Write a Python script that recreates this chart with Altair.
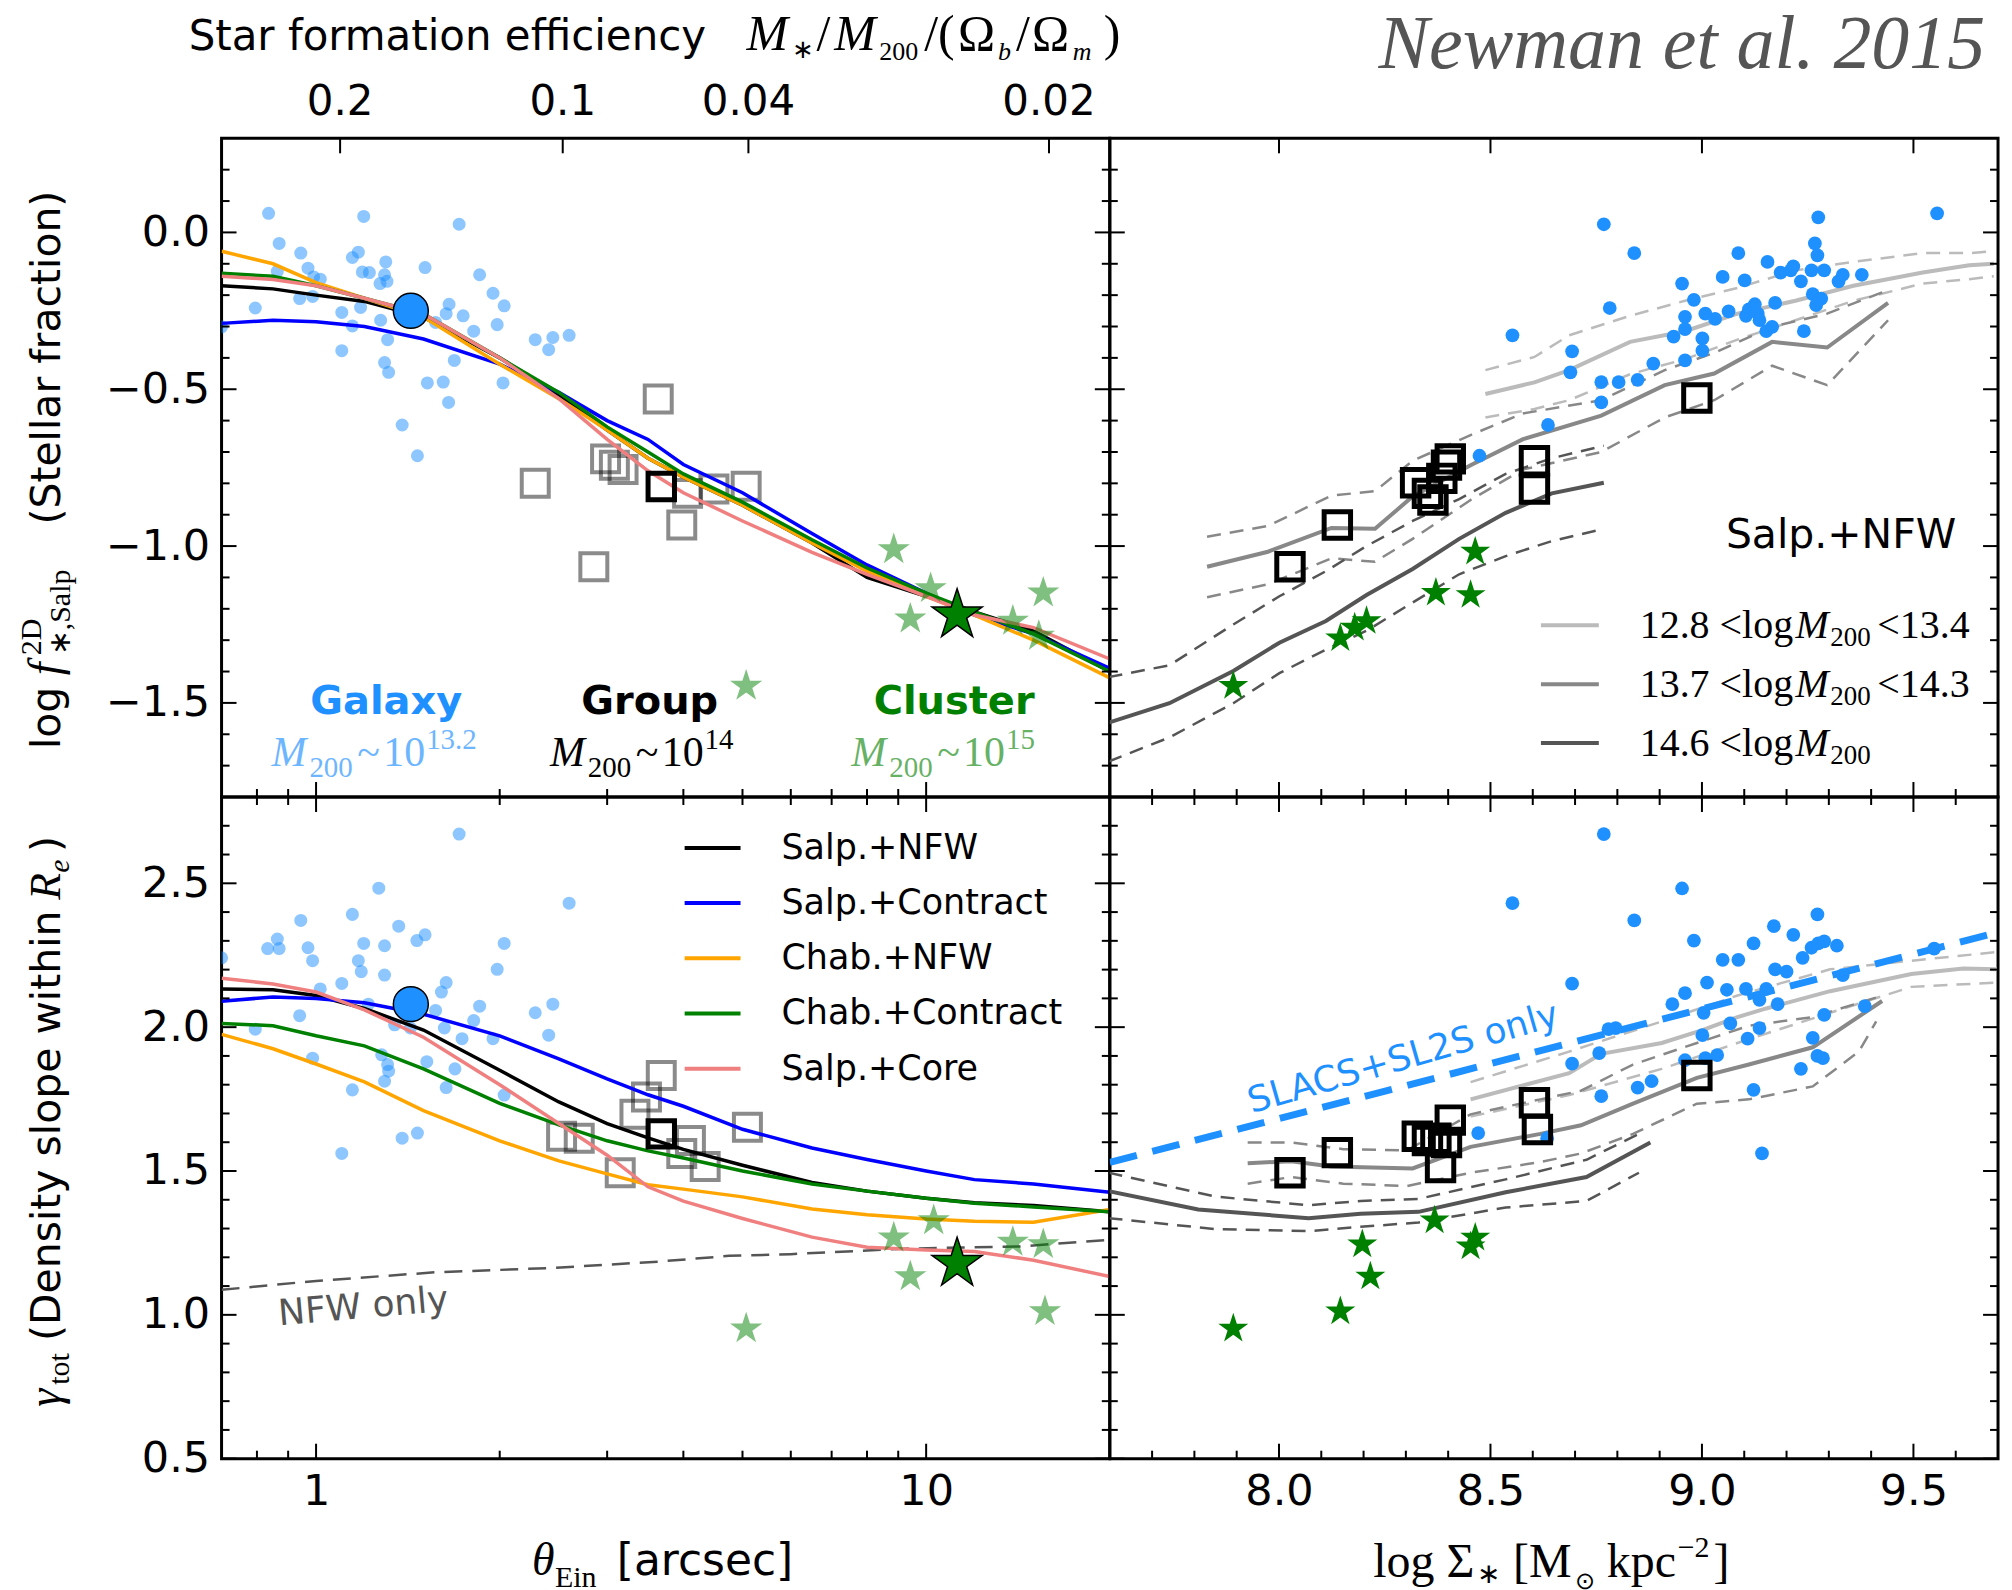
import altair as alt
import pandas as pd

# ---------------------------------------------------------------- data
theta_grid = [0.7, 0.85, 1.0, 1.2, 1.5, 2.0, 2.5, 3.0, 3.5, 4.0, 5.0, 6.5, 8.0, 10, 12, 15, 20]

fstar_salp_nfw = [-0.17, -0.18, -0.20, -0.22, -0.27, -0.40, -0.52, -0.63, -0.72, -0.78, -0.87, -0.99, -1.10, -1.16, -1.21, -1.27, -1.40]
fstar_salp_contract = [-0.29, -0.28, -0.285, -0.30, -0.34, -0.42, -0.51, -0.60, -0.66, -0.74, -0.83, -0.96, -1.06, -1.15, -1.22, -1.28, -1.39]
fstar_chab_nfw = [-0.06, -0.10, -0.16, -0.21, -0.27, -0.42, -0.53, -0.63, -0.72, -0.78, -0.87, -0.99, -1.08, -1.16, -1.22, -1.30, -1.42]
fstar_chab_contract = [-0.13, -0.14, -0.17, -0.21, -0.26, -0.40, -0.51, -0.62, -0.70, -0.77, -0.86, -0.98, -1.07, -1.15, -1.21, -1.28, -1.40]
fstar_salp_core = [-0.14, -0.15, -0.17, -0.21, -0.26, -0.40, -0.53, -0.66, -0.76, -0.83, -0.92, -1.02, -1.09, -1.16, -1.22, -1.26, -1.36]

gamma_salp_nfw = [2.133, 2.13, 2.11, 2.065, 1.99, 1.85, 1.74, 1.665, 1.615, 1.575, 1.52, 1.46, 1.43, 1.405, 1.39, 1.38, 1.358]
gamma_salp_contract = [2.09, 2.105, 2.10, 2.085, 2.045, 1.97, 1.89, 1.82, 1.765, 1.725, 1.645, 1.58, 1.54, 1.50, 1.47, 1.455, 1.426]
gamma_chab_nfw = [1.975, 1.925, 1.872, 1.81, 1.71, 1.605, 1.535, 1.49, 1.452, 1.437, 1.41, 1.368, 1.348, 1.333, 1.325, 1.322, 1.366]
gamma_chab_contract = [2.013, 2.005, 1.97, 1.935, 1.855, 1.735, 1.66, 1.605, 1.57, 1.545, 1.50, 1.455, 1.43, 1.405, 1.388, 1.375, 1.358]
gamma_salp_core = [2.17, 2.15, 2.122, 2.06, 1.965, 1.80, 1.665, 1.555, 1.445, 1.395, 1.335, 1.27, 1.235, 1.225, 1.22, 1.19, 1.133]

nfw_theta = [0.7, 1.0, 1.57, 2.44, 3.64, 4.75, 6.0, 9.2, 14.3, 20]
nfw_gamma = [1.087, 1.118, 1.148, 1.163, 1.185, 1.205, 1.211, 1.230, 1.238, 1.261]

model_names = ["Salp.+NFW", "Salp.+Contract", "Chab.+NFW", "Chab.+Contract", "Salp.+Core"]

# galaxies (SLACS/SL2S) - left panels
gal_theta_top = [0.836, 1.197, 1.716, 0.870, 0.944, 1.173, 1.147, 1.301, 1.509, 0.970, 0.864, 1.191, 1.223, 1.295, 1.854,
                 0.991, 1.016, 1.273, 1.307, 1.95, 0.940, 0.987, 1.652, 2.034, 0.795, 1.102, 1.634, 1.742, 1.183, 1.276,
                 1.570, 1.147, 1.813, 1.981, 2.287, 2.444, 2.599, 2.406, 1.102, 1.310, 1.685, 1.295, 1.315, 1.522, 1.616,
                 2.025, 1.649, 1.384, 1.466, 0.70]
gal_f_top = [0.061, 0.051, 0.026, -0.035, -0.066, -0.063, -0.080, -0.094, -0.112, -0.114, -0.124, -0.126, -0.128, -0.135,
             -0.135, -0.142, -0.149, -0.163, -0.156, -0.194, -0.211, -0.204, -0.229, -0.234, -0.241, -0.255, -0.259,
             -0.266, -0.239, -0.280, -0.287, -0.298, -0.315, -0.294, -0.342, -0.335, -0.328, -0.374, -0.377, -0.342,
             -0.408, -0.415, -0.446, -0.480, -0.477, -0.480, -0.542, -0.614, -0.712, -0.301]
gal_theta_bot = [1.716, 1.267, 2.599, 0.944, 1.147, 1.366, 1.509, 1.463, 0.864, 0.833, 0.870, 0.970, 1.197, 1.295, 2.034,
                 0.987, 1.173, 1.186, 1.295, 1.981, 1.634, 1.605, 1.102, 1.016, 1.854, 2.287, 2.444, 0.940, 1.345, 1.428,
                 1.623, 1.813, 1.735, 1.95, 2.406, 0.795, 0.987, 1.281, 1.310, 1.315, 1.519, 1.689, 1.295, 1.147, 1.634,
                 2.034, 1.384, 1.466, 1.102, 0.70, 1.218, 1.570]
gal_gamma_bot = [2.671, 2.483, 2.431, 2.371, 2.392, 2.351, 2.321, 2.301, 2.306, 2.273, 2.273, 2.276, 2.291, 2.283, 2.291,
                 2.231, 2.231, 2.193, 2.181, 2.201, 2.155, 2.122, 2.152, 2.133, 2.073, 2.050, 2.080, 2.040, 2.008, 1.997,
                 1.997, 2.023, 1.960, 1.960, 1.972, 1.993, 1.892, 1.904, 1.870, 1.847, 1.880, 1.855, 1.812, 1.782, 1.790,
                 1.764, 1.614, 1.632, 1.561, 2.241, 2.080, 2.058]

grp_theta_top = [3.638, 2.287, 2.982, 3.083, 3.186, 4.064, 4.489, 5.07, 3.976, 2.853]
grp_f_top = [-0.531, -0.800, -0.722, -0.742, -0.756, -0.832, -0.818, -0.809, -0.933, -1.066]
grp_theta_bot = [3.68, 3.332, 3.48, 2.526, 2.700, 3.152, 4.108, 4.343, 5.094, 3.976]
grp_gamma_bot = [1.832, 1.697, 1.757, 1.621, 1.614, 1.494, 1.606, 1.516, 1.652, 1.561]

cl_theta_top = [8.85, 10.17, 9.42, 15.56, 13.87, 15.3, 5.07]
cl_f_top = [-1.011, -1.135, -1.232, -1.149, -1.239, -1.287, -1.446]
cl_theta_bot = [10.29, 8.85, 9.42, 13.87, 15.56, 15.66, 5.07]
cl_gamma_bot = [1.328, 1.268, 1.133, 1.253, 1.245, 1.012, 0.952]

mean_theta = [1.43, 3.68, 11.24]          # galaxy, group, cluster
mean_f = [-0.25, -0.81, -1.22]
mean_gamma = [2.08, 1.629, 1.178]

# right panels
gal_s_top = [8.768, 8.840, 8.782, 8.552, 8.693, 8.689, 8.762, 8.762, 8.803, 8.848, 8.885, 8.636, 8.474, 8.953, 8.981,
             8.960, 8.933, 8.960, 9.001, 9.001, 8.960, 9.008, 9.031, 9.049, 9.063, 9.086, 9.101, 9.111, 9.125, 9.136,
             9.155, 9.173, 9.166, 9.186, 9.210, 9.216, 9.234, 9.241, 9.259, 9.267, 9.275, 9.273, 9.289, 9.262, 9.282,
             9.270, 9.323, 9.333, 9.378, 9.556, 9.104, 9.132, 9.152]
gal_fs_top = [0.026, -0.066, -0.241, -0.328, -0.379, -0.446, -0.477, -0.542, -0.477, -0.470, -0.418, -0.614, -0.712,
              -0.163, -0.215, -0.269, -0.332, -0.308, -0.338, -0.377, -0.408, -0.259, -0.276, -0.142, -0.252, -0.066,
              -0.153, -0.245, -0.229, -0.280, -0.094, -0.225, -0.301, -0.128, -0.121, -0.108, -0.156, -0.315, -0.121,
              -0.035, 0.048, -0.073, -0.121, -0.197, -0.211, -0.232, -0.156, -0.135, -0.135, 0.061, -0.266, -0.259,
              -0.315]
gal_s_bot = [8.768, 8.552, 8.953, 8.840, 8.981, 8.693, 9.170, 9.216, 9.273, 9.122, 9.049, 9.086, 9.173, 9.200, 9.238,
             9.259, 9.275, 9.289, 9.319, 9.549, 9.333, 9.012, 9.059, 8.960, 8.930, 9.104, 9.152, 9.136, 9.179, 9.004,
             9.067, 9.136, 9.108, 9.385, 9.289, 9.262, 9.001, 8.796, 8.779, 8.757, 8.693, 9.036, 8.960, 9.273, 9.286,
             9.234, 9.122, 8.881, 8.848, 8.762, 8.471, 8.634, 9.142, 9.008]
gal_gs_bot = [2.671, 2.431, 2.482, 2.371, 2.301, 2.151, 2.351, 2.321, 2.392, 2.291, 2.234, 2.234, 2.201, 2.193, 2.241,
              2.276, 2.291, 2.298, 2.283, 2.273, 2.181, 2.155, 2.130, 2.118, 2.080, 2.133, 2.133, 2.095, 2.080, 2.050,
              2.013, 1.997, 1.960, 2.073, 2.043, 1.963, 1.972, 1.997, 1.993, 1.910, 1.873, 1.903, 1.885, 1.900, 1.892,
              1.855, 1.782, 1.812, 1.790, 1.760, 1.632, 1.614, 1.561, 1.892]

grp_s_top = [8.026, 8.138, 8.323, 8.351, 8.364, 8.385, 8.396, 8.405, 8.604, 8.604, 8.988]
grp_fs_top = [-1.066, -0.933, -0.798, -0.832, -0.853, -0.784, -0.742, -0.722, -0.728, -0.818, -0.528]
grp_s_bot = [8.026, 8.138, 8.327, 8.351, 8.371, 8.382, 8.396, 8.405, 8.604, 8.611, 8.988]
grp_gs_bot = [1.494, 1.564, 1.621, 1.606, 1.614, 1.512, 1.599, 1.677, 1.737, 1.644, 1.832]

cl_s_top = [7.892, 8.145, 8.179, 8.207, 8.371, 8.453, 8.464]
cl_fs_top = [-1.446, -1.294, -1.260, -1.239, -1.149, -1.156, -1.018]
cl_s_bot = [7.892, 8.145, 8.197, 8.216, 8.368, 8.453, 8.464]
cl_gs_bot = [0.952, 1.012, 1.245, 1.133, 1.328, 1.238, 1.268]

# simulation tracks (top right): x, median, upper, lower
lo_s_top = [8.488, 8.604, 8.686, 8.830, 8.960, 9.084, 9.221, 9.358, 9.522, 9.632, 9.69]
lo_f_top = [-0.515, -0.478, -0.439, -0.349, -0.315, -0.259, -0.218, -0.170, -0.128, -0.105, -0.100]
lo_fu_top = [-0.439, -0.397, -0.328, -0.266, -0.218, -0.177, -0.121, -0.094, -0.066, -0.066, -0.060]
lo_fl_top = [-0.590, -0.563, -0.535, -0.452, -0.404, -0.342, -0.280, -0.218, -0.163, -0.149, -0.140]
md_s_top = [7.830, 7.974, 8.124, 8.227, 8.316, 8.453, 8.577, 8.762, 8.912, 9.029, 9.166, 9.296, 9.440]
md_f_top = [-1.066, -1.018, -0.942, -0.945, -0.842, -0.742, -0.659, -0.584, -0.487, -0.450, -0.349, -0.367, -0.225]
md_fu_top = [-0.970, -0.936, -0.839, -0.825, -0.728, -0.646, -0.577, -0.535, -0.439, -0.384, -0.301, -0.259, -0.184]
md_fl_top = [-1.163, -1.122, -1.039, -1.050, -0.977, -0.853, -0.756, -0.700, -0.590, -0.535, -0.425, -0.487, -0.280]
hi_s_top = [7.597, 7.741, 7.892, 8.001, 8.111, 8.207, 8.316, 8.426, 8.536, 8.645, 8.768]
hi_f_top = [-1.563, -1.501, -1.398, -1.308, -1.239, -1.156, -1.073, -0.977, -0.894, -0.832, -0.798]
hi_fu_top = [-1.418, -1.380, -1.250, -1.160, -1.080, -1.000, -0.920, -0.850, -0.770, -0.720, -0.680]
hi_fl_top = [-1.687, -1.610, -1.501, -1.405, -1.330, -1.270, -1.180, -1.090, -1.032, -0.984, -0.945]

# simulation tracks (bottom right)
lo_s_bot = [8.453, 8.686, 8.762, 8.905, 9.001, 9.084, 9.152, 9.303, 9.495, 9.618, 9.697]
lo_g_bot = [1.749, 1.840, 1.907, 1.945, 1.990, 2.035, 2.065, 2.125, 2.185, 2.204, 2.201]
lo_sd_bot = [8.453, 8.686, 8.905, 9.084, 9.303, 9.495, 9.697]
lo_gu_bot = [1.809, 1.915, 2.020, 2.110, 2.201, 2.231, 2.261]
lo_gl_bot = [1.689, 1.764, 1.855, 1.945, 2.050, 2.140, 2.155]
md_s_bot = [7.926, 8.029, 8.124, 8.316, 8.453, 8.618, 8.714, 8.837, 8.988, 9.111, 9.262, 9.426]
md_g_bot = [1.527, 1.534, 1.516, 1.509, 1.584, 1.629, 1.659, 1.734, 1.824, 1.870, 1.930, 2.091]
md_su_bot = [7.926, 8.029, 8.152, 8.303, 8.453, 8.618, 8.714, 8.837, 8.988, 9.111, 9.262, 9.412]
md_gu_bot = [1.599, 1.599, 1.576, 1.572, 1.697, 1.749, 1.779, 1.870, 1.945, 2.005, 2.035, 2.103]
md_sl_bot = [7.926, 8.029, 8.152, 8.303, 8.453, 8.618, 8.714, 8.837, 8.988, 9.111, 9.262, 9.371, 9.412]
md_gl_bot = [1.456, 1.479, 1.456, 1.448, 1.494, 1.531, 1.561, 1.629, 1.734, 1.749, 1.794, 1.915, 2.020]
hi_s_bot = [7.597, 7.809, 8.070, 8.193, 8.330, 8.536, 8.727, 8.878]
hi_g_bot = [1.430, 1.366, 1.336, 1.351, 1.358, 1.426, 1.479, 1.599]
hi_sd_bot = [7.597, 7.850, 8.070, 8.193, 8.330, 8.536, 8.727, 8.851]
hi_gu_bot = [1.494, 1.411, 1.381, 1.396, 1.403, 1.471, 1.539, 1.629]
hi_gl_bot = [1.336, 1.298, 1.291, 1.306, 1.321, 1.373, 1.396, 1.494]

slacs_s = [7.6, 9.7]
slacs_g = [1.53, 2.33]

# tick positions and labels
x_major_log = [1, 10]
x_minor_log = [0.8, 0.9, 2, 3, 4, 5, 6, 7, 8, 9]
sfe_tick_theta = [1.095, 2.537, 5.113, 15.9]
sfe_tick_labels = ["0.2", "0.1", "0.04", "0.02"]
x_major_lin = [8.0, 8.5, 9.0, 9.5]
x_minor_lin = [7.7, 7.8, 7.9, 8.1, 8.2, 8.3, 8.4, 8.6, 8.7, 8.8, 8.9, 9.1, 9.2, 9.3, 9.4, 9.6]
y_major_top = [-1.5, -1.0, -0.5, 0.0]
y_minor_top = [-1.7, -1.6, -1.4, -1.3, -1.2, -1.1, -0.9, -0.8, -0.7, -0.6, -0.4, -0.3, -0.2, -0.1, 0.1, 0.2]
y_major_bot = [0.5, 1.0, 1.5, 2.0, 2.5]
y_minor_bot = [0.6, 0.7, 0.8, 0.9, 1.1, 1.2, 1.3, 1.4, 1.6, 1.7, 1.8, 1.9, 2.1, 2.2, 2.3, 2.4, 2.6, 2.7]

# ---------------------------------------------------------------- style
W = 890
H_TOP = 660
H_BOT = 663
BLUE = "#1E90FF"
GREEN = "#008000"
SANS = "DejaVu Sans"
SERIF = "Liberation Serif"
model_colors = ["#000000", "#0000FF", "#FFA500", "#008000", "#F08080"]
gray_colors = ["#BBBBBB", "#888888", "#555555"]
STAR = ("M0,-1 L0.2245,-0.309 L0.9511,-0.309 L0.3633,0.118 L0.5878,0.809 L0,0.382 "
        "L-0.5878,0.809 L-0.3633,0.118 L-0.9511,-0.309 L-0.2245,-0.309 Z")
ONE = pd.DataFrame({"a": [0]})
MAJ, MIN = 15, 8


def xy(xs, ys):
    return pd.DataFrame({"x": xs, "y": ys})


def T(text, x, y, size, font=SANS, style="normal", weight="normal", color="black",
      align="left", baseline="alphabetic", angle=0, opacity=1.0):
    return alt.Chart(ONE).mark_text(
        text=text, font=font, fontSize=size, fontStyle=style, fontWeight=weight,
        color=color, align=align, baseline=baseline, angle=angle, opacity=opacity
    ).encode(x=alt.value(x), y=alt.value(y))


def seg(x1, x2, y, color, width=4, dash=None):
    kw = dict(color=color, strokeWidth=width)
    if dash:
        kw["strokeDash"] = dash
    return alt.Chart(ONE).mark_rule(**kw).encode(x=alt.value(x1), x2=alt.value(x2), y=alt.value(y))


def line(xs, ys, X, Y, color, width=4, dash=None):
    kw = dict(color=color, strokeWidth=width, clip=True)
    if dash:
        kw["strokeDash"] = dash
    return alt.Chart(xy(xs, ys)).mark_line(**kw).encode(x=X, y=Y)


def xticks(vals, X, y0, y1, w=2):
    return alt.Chart(pd.DataFrame({"x": vals})).mark_rule(color="black", strokeWidth=w).encode(
        x=X, y=alt.value(y0), y2=alt.value(y1))


def yticks(vals, Y, x0, x1, w=2):
    return alt.Chart(pd.DataFrame({"y": vals})).mark_rule(color="black", strokeWidth=w).encode(
        y=Y, x=alt.value(x0), x2=alt.value(x1))


def frame_ticks(X, Y, h, xmaj, xmin, ymaj, ymin, top_maj, top_min):
    out = [
        xticks(xmaj, X, h, h - MAJ), xticks(xmin, X, h, h - MIN),
        yticks(ymaj, Y, 0, MAJ), yticks(ymin, Y, 0, MIN),
        yticks(ymaj, Y, W, W - MAJ), yticks(ymin, Y, W, W - MIN),
    ]
    if top_maj:
        out.append(xticks(top_maj, X, 0, MAJ))
    if top_min:
        out.append(xticks(top_min, X, 0, MIN))
    return out


def circles(xs, ys, X, Y, opacity, size=170):
    return alt.Chart(xy(xs, ys)).mark_circle(size=size, color=BLUE, opacity=opacity, clip=True).encode(x=X, y=Y)


def squares(xs, ys, X, Y, color, opacity, width=4, size=730):
    return alt.Chart(xy(xs, ys)).mark_point(shape="square", filled=False, size=size, stroke=color,
                                            strokeWidth=width, opacity=opacity, clip=True).encode(x=X, y=Y)


def stars(xs, ys, X, Y, opacity, size=1150):
    return alt.Chart(xy(xs, ys)).mark_point(shape=STAR, filled=True, size=size, color=GREEN, fill=GREEN,
                                            strokeWidth=0, opacity=opacity, clip=True).encode(x=X, y=Y)


def means(theta, vals, X, Y):
    return [
        alt.Chart(xy(theta[:1], vals[:1])).mark_point(shape="circle", filled=True, size=1225, fill=BLUE,
                                                      stroke="black", strokeWidth=1.5, opacity=1).encode(x=X, y=Y),
        alt.Chart(xy(theta[1:2], vals[1:2])).mark_point(shape="square", filled=False, size=700, stroke="black",
                                                        strokeWidth=5, opacity=1).encode(x=X, y=Y),
        alt.Chart(xy(theta[2:], vals[2:])).mark_point(shape=STAR, filled=True, size=2800, fill=GREEN,
                                                      stroke="black", strokeWidth=1.5, opacity=1).encode(x=X, y=Y),
    ]


xs_log = alt.Scale(type="log", domain=[0.7, 20], nice=False)
xs_lin = alt.Scale(domain=[7.6, 9.7], nice=False, zero=False)
ys_top = alt.Scale(domain=[-1.8, 0.3], nice=False, zero=False)
ys_bot = alt.Scale(domain=[0.5, 2.8], nice=False, zero=False)

lab = dict(ticks=False, domain=False, grid=False, title=None, labelFont=SANS, labelFontSize=43,
           labelColor="black", labelFlush=False, labelOverlap=False)
y_axis_top = alt.Axis(values=y_major_top, format=".1f", labelPadding=12, **lab)
y_axis_bot = alt.Axis(values=y_major_bot, format=".1f", labelPadding=12, **lab)
x_axis_log = alt.Axis(values=x_major_log, format="d", labelPadding=12, **lab)
x_axis_lin = alt.Axis(values=x_major_lin, format=".1f", labelPadding=12, **lab)

# ---------------------------------------------------------------- top left
X = alt.X("x:Q", scale=xs_log, axis=None)
Y = alt.Y("y:Q", scale=ys_top, axis=y_axis_top)
tl = [alt.Chart(ONE).mark_rule(opacity=0).encode(x=alt.value(-220), x2=alt.value(-219),
                                                   y=alt.value(-135), y2=alt.value(-134))]
tl.append(circles(gal_theta_top, gal_f_top, X, Y, 0.5))
tl.append(squares(grp_theta_top, grp_f_top, X, Y, "black", 0.45))
for name, vals, c in zip(model_names, [fstar_salp_nfw, fstar_salp_contract, fstar_chab_nfw,
                                       fstar_chab_contract, fstar_salp_core], model_colors):
    tl.append(line(theta_grid, vals, X, Y, c, 3.5))
tl.append(stars(cl_theta_top, cl_f_top, X, Y, 0.5))
tl += means(mean_theta, mean_f, X, Y)
tl += frame_ticks(X, Y, H_TOP, x_major_log, x_minor_log, y_major_top, y_minor_top, sfe_tick_theta, None)
tl.append(alt.Chart(pd.DataFrame({"x": sfe_tick_theta, "lab": sfe_tick_labels})).mark_text(
    font=SANS, fontSize=42, align="center", baseline="alphabetic", color="black").encode(
    x=X, y=alt.value(-23), text="lab:N"))
# top title
tl.append(T("Star formation efficiency", -33, -88, 42))
for txt, px, dy, sz, st in [("M", 526, 0, 50, "italic"), ("\u2217", 572, 8, 26, "normal"),
                            ("/", 596, 0, 50, "normal"), ("M", 614, 0, 50, "italic"),
                            ("200", 659, 10, 26, "normal"), ("/(", 704, 0, 50, "normal"),
                            ("\u03A9", 738, 0, 50, "normal"), ("b", 778, 10, 26, "italic"),
                            ("/", 796, 0, 50, "normal"), ("\u03A9", 812, 0, 50, "normal"),
                            ("m", 853, 10, 26, "italic"), (")", 884, 0, 50, "normal")]:
    tl.append(T(txt, px, -88 + dy, sz, font=SERIF, style=st))
# y title (rotated)
tl.append(T("log", -162, 612, 41, angle=270))
tl.append(T("f", -162, 538, 46, font=SERIF, style="italic", angle=270))
tl.append(T("2D", -181, 518, 30, font=SERIF, angle=270))
tl.append(T("\u2217,Salp", -152, 518, 30, font=SERIF, angle=270))
tl.append(T("(Stellar fraction)", -162, 387, 41, angle=270))
# group labels
tl.append(T("Galaxy", 165, 577, 40, weight="bold", color=BLUE, align="center"))
tl.append(T("Group", 429, 577, 40, weight="bold", color="black", align="center"))
tl.append(T("Cluster", 734, 577, 40, weight="bold", color=GREEN, align="center"))
for x0, sup, col, op in [(50, "13.2", BLUE, 0.65), (329, "14", "black", 1.0), (631, "15", GREEN, 0.6)]:
    tl.append(T("M", x0, 629, 42, font=SERIF, style="italic", color=col, opacity=op))
    tl.append(T("200", x0 + 38, 640, 29, font=SERIF, color=col, opacity=op))
    tl.append(T("~", x0 + 86, 629, 42, font=SERIF, color=col, opacity=op))
    tl.append(T("10", x0 + 112, 629, 42, font=SERIF, color=col, opacity=op))
    tl.append(T(sup, x0 + 155, 612, 29, font=SERIF, color=col, opacity=op))
TL = alt.layer(*tl).properties(width=W, height=H_TOP)

# ---------------------------------------------------------------- top right
X = alt.X("x:Q", scale=xs_lin, axis=None)
Y = alt.Y("y:Q", scale=ys_top, axis=None)
tr = []
for s, m, u, l_, c in [(lo_s_top, lo_f_top, lo_fu_top, lo_fl_top, gray_colors[0]),
                       (md_s_top, md_f_top, md_fu_top, md_fl_top, gray_colors[1]),
                       (hi_s_top, hi_f_top, hi_fu_top, hi_fl_top, gray_colors[2])]:
    tr.append(line(s, u, X, Y, c, 2.5, [14, 9]))
    tr.append(line(s, l_, X, Y, c, 2.5, [14, 9]))
    tr.append(line(s, m, X, Y, c, 4))
tr.append(circles(gal_s_top, gal_fs_top, X, Y, 1.0, 190))
tr.append(squares(grp_s_top, grp_fs_top, X, Y, "black", 1.0, 5, 700))
tr.append(stars(cl_s_top, cl_fs_top, X, Y, 1.0, 1000))
tr += frame_ticks(X, Y, H_TOP, x_major_lin, x_minor_lin, y_major_top, y_minor_top, x_major_lin, None)
tr.append(T("Salp.+NFW", 848, 410, 41, align="right"))
for i, (a, b) in enumerate([("12.8", "<13.4"), ("13.7", "<14.3"), ("14.6", None)]):
    yc = 488 + 59 * i
    tr.append(seg(432, 490, yc, gray_colors[i], 4))
    tr.append(T(a, 531, yc + 13, 40, font=SERIF))
    tr.append(T("<log", 611, yc + 13, 40, font=SERIF))
    tr.append(T("M", 687, yc + 13, 40, font=SERIF, style="italic"))
    tr.append(T("200", 722, yc + 21, 27, font=SERIF))
    if b:
        tr.append(T(b, 769, yc + 13, 40, font=SERIF))
tr.append(T("Newman et al. 2015", 877, -70, 76, font=SERIF, style="italic", color="#555555", align="right"))
TR = alt.layer(*tr).properties(width=W, height=H_TOP)

# ---------------------------------------------------------------- bottom left
X = alt.X("x:Q", scale=xs_log, axis=x_axis_log)
Y = alt.Y("y:Q", scale=ys_bot, axis=y_axis_bot)
bl = []
bl.append(circles(gal_theta_bot, gal_gamma_bot, X, Y, 0.5))
bl.append(squares(grp_theta_bot, grp_gamma_bot, X, Y, "black", 0.45))
bl.append(line(nfw_theta, nfw_gamma, X, Y, "#555555", 2.5, [18, 10]))
for name, vals, c in zip(model_names, [gamma_salp_nfw, gamma_salp_contract, gamma_chab_nfw,
                                       gamma_chab_contract, gamma_salp_core], model_colors):
    bl.append(line(theta_grid, vals, X, Y, c, 3.5))
bl.append(stars(cl_theta_bot, cl_gamma_bot, X, Y, 0.5))
bl += means(mean_theta, mean_gamma, X, Y)
bl += frame_ticks(X, Y, H_BOT, x_major_log, x_minor_log, y_major_bot, y_minor_bot, x_major_log, x_minor_log)
for i, (name, c) in enumerate(zip(model_names, model_colors)):
    yc = 51 + 55.3 * i
    bl.append(seg(464, 520, yc, c, 4))
    bl.append(T(name, 561, yc, 35, baseline="middle"))
bl.append(T("NFW only", 142, 511, 36, color="#555555", align="center", baseline="middle", angle=355))
# x title
bl.append(T("\u03B8", 311, 780, 46, font=SERIF, style="italic"))
bl.append(T("Ein", 334, 792, 30, font=SERIF))
bl.append(T("[arcsec]", 396, 780, 44))
# y title (rotated)
bl.append(T("\u03B3", -162, 611, 46, font=SERIF, style="italic", angle=270))
bl.append(T("tot", -153, 589, 30, font=SERIF, angle=270))
bl.append(T("(Density slope within", -162, 545, 41, angle=270))
bl.append(T("R", -162, 103, 44, font=SERIF, style="italic", angle=270))
bl.append(T("e", -153, 76, 30, font=SERIF, style="italic", angle=270))
bl.append(T(")", -162, 55, 41, angle=270))
BL = alt.layer(*bl).properties(width=W, height=H_BOT)

# ---------------------------------------------------------------- bottom right
X = alt.X("x:Q", scale=xs_lin, axis=x_axis_lin)
Y = alt.Y("y:Q", scale=ys_bot, axis=None)
br = []
for sd, u, l_, s, m, c in [(lo_sd_bot, lo_gu_bot, lo_gl_bot, lo_s_bot, lo_g_bot, gray_colors[0]),
                           (md_su_bot, md_gu_bot, None, md_s_bot, md_g_bot, gray_colors[1]),
                           (hi_sd_bot, hi_gu_bot, hi_gl_bot, hi_s_bot, hi_g_bot, gray_colors[2])]:
    br.append(line(sd, u, X, Y, c, 2.5, [14, 9]))
    if l_ is not None:
        br.append(line(sd, l_, X, Y, c, 2.5, [14, 9]))
    br.append(line(s, m, X, Y, c, 4))
br.append(line(md_sl_bot, md_gl_bot, X, Y, gray_colors[1], 2.5, [14, 9]))
br.append(circles(gal_s_bot, gal_gs_bot, X, Y, 1.0, 190))
br.append(squares(grp_s_bot, grp_gs_bot, X, Y, "black", 1.0, 5, 700))
br.append(stars(cl_s_bot, cl_gs_bot, X, Y, 1.0, 1000))
br.append(line(slacs_s, slacs_g, X, Y, BLUE, 7, [28, 16]))
br += frame_ticks(X, Y, H_BOT, x_major_lin, x_minor_lin, y_major_bot, y_minor_bot, x_major_lin, x_minor_lin)
br.append(T("SLACS+SL2S only", 294, 262, 36, color=BLUE, align="center", baseline="middle", angle=344))
# x title
br.append(T("log \u03A3", 264, 782, 48, font=SERIF))
br.append(T("\u2217", 368, 788, 28, font=SERIF))
br.append(T("[M", 404, 782, 48, font=SERIF))
br.append(T("\u2299", 466, 794, 24, font=SERIF))
br.append(T("kpc", 498, 782, 48, font=SERIF))
br.append(T("\u22122", 569, 762, 30, font=SERIF))
br.append(T("]", 605, 782, 48, font=SERIF))
br.append(alt.Chart(ONE).mark_rule(opacity=0).encode(x=alt.value(901), x2=alt.value(902),
                                                       y=alt.value(794), y2=alt.value(795)))
BR = alt.layer(*br).properties(width=W, height=H_BOT)

chart = alt.ConcatChart(concat=[TL, TR, BL, BR], columns=2, spacing=0, bounds="flush", padding=0,
                        background="white").configure_view(stroke="black", strokeWidth=3)

chart.save("out.html", embed_options={"renderer": "svg", "actions": False})
